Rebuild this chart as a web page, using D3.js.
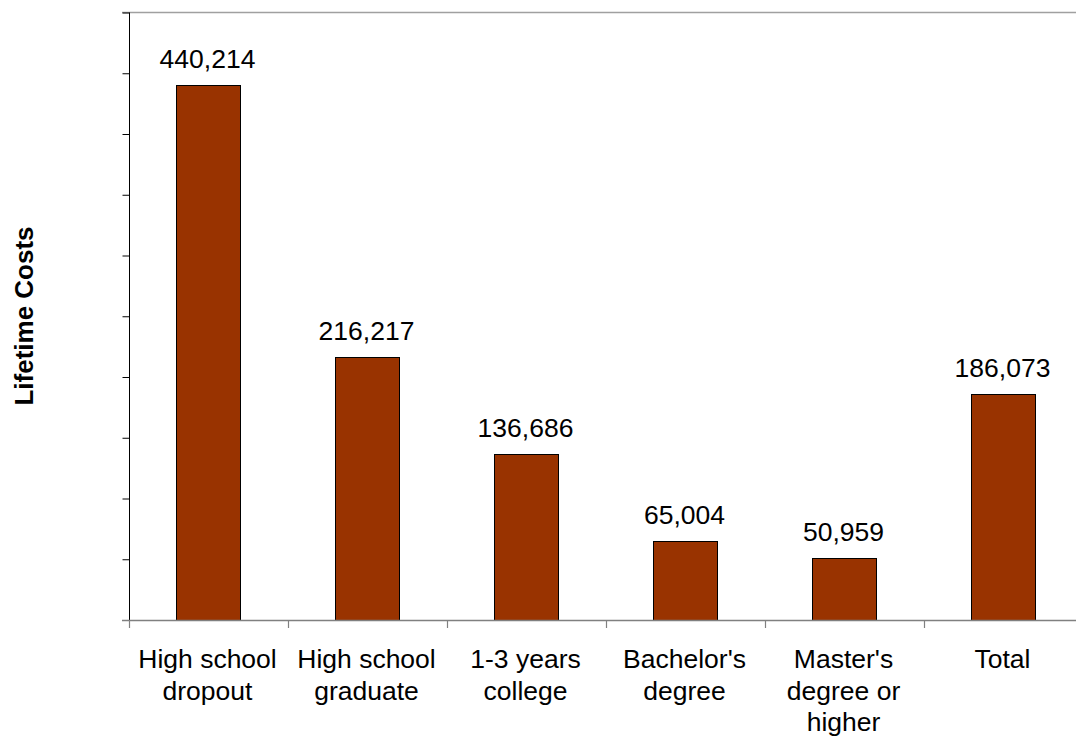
<!DOCTYPE html>
<html><head><meta charset="utf-8">
<script src="https://cdn.jsdelivr.net/npm/d3@7"></script>
<style>body{margin:0;background:#fff;} svg{display:block;font-family:"Liberation Sans",Arial,sans-serif;}</style>
</head><body>
<svg id="c" width="1076" height="738"></svg>
<script>
const categories = [["High school","dropout"],["High school","graduate"],["1-3 years","college"],["Bachelor's","degree"],["Master's","degree or","higher"],["Total"]];
const values = [440214, 216217, 136686, 65004, 50959, 186073];
const yTicks = d3.range(0, 500001, 50000);

const svg = d3.select("#c");
const pLeft = 129, pRight = 1083, pTop = 12.5, pBottom = 620;
const xb = d3.scaleBand().domain(d3.range(categories.length)).range([pLeft, pRight]);
const barW = xb.bandwidth() * 0.4;
const y = d3.scaleLinear().domain([0, 500000]).range([pBottom, pTop]);

// top border
svg.append("line").attr("x1", 122).attr("x2", 1076).attr("y1", pTop).attr("y2", pTop).attr("stroke", "#a0a0a0").attr("stroke-width", 1.5);

// bars
svg.selectAll("rect.bar").data(values).join("rect")
  .attr("x", (d,i) => Math.round(xb(i) + xb.bandwidth()*0.3) - 0.5)
  .attr("y", d => Math.round(y(d)) + 0.5)
  .attr("width", Math.round(barW))
  .attr("height", d => Math.round(pBottom) - Math.round(y(d)))
  .attr("fill", "#993300").attr("stroke", "#000").attr("stroke-width", 1);

// value labels
svg.selectAll("text.val").data(values).join("text")
  .attr("x", (d,i) => xb(i) + xb.bandwidth()/2 - 1)
  .attr("y", d => y(d) - 17)
  .attr("text-anchor", "middle").attr("font-size", 26.5).attr("fill", "#000")
  .text(d => d3.format(",")(d));

// y axis
const ya = d3.axisLeft(y).tickValues(yTicks).tickSize(7).tickFormat("");
const yg = svg.append("g").attr("transform", `translate(${pLeft+0.5},0)`).call(ya);
yg.select(".domain").remove();
yg.selectAll(".tick line").attr("stroke", "#000");
svg.append("line").attr("x1", pLeft+0.5).attr("x2", pLeft+0.5).attr("y1", pTop).attr("y2", pBottom).attr("stroke", "#000");

// x axis
svg.append("line").attr("x1", 122).attr("x2", 1076).attr("y1", pBottom+0.5).attr("y2", pBottom+0.5).attr("stroke", "#808080").attr("stroke-width", 1.5);
svg.selectAll("line.xt").data(d3.range(categories.length + 1)).join("line")
  .attr("x1", i => pLeft + 0.5 + i*xb.bandwidth()).attr("x2", i => pLeft + 0.5 + i*xb.bandwidth())
  .attr("y1", pBottom).attr("y2", pBottom + 8).attr("stroke", "#808080").attr("stroke-width", 1.2);

// category labels
const cl = svg.selectAll("text.cat").data(categories).join("text")
  .attr("text-anchor", "middle").attr("font-size", 26.5).attr("fill", "#000");
cl.each(function(lines, i) {
  const t = d3.select(this);
  lines.forEach((s, j) => t.append("tspan").attr("x", xb(i) + xb.bandwidth()/2 - 1).attr("y", 668 + j*31.5).text(s));
});

// y title
svg.append("text").attr("transform", "translate(33,316) rotate(-90)")
  .attr("text-anchor", "middle").attr("font-size", 26).attr("font-weight", "bold").text("Lifetime Costs");
</script>
</body></html>
